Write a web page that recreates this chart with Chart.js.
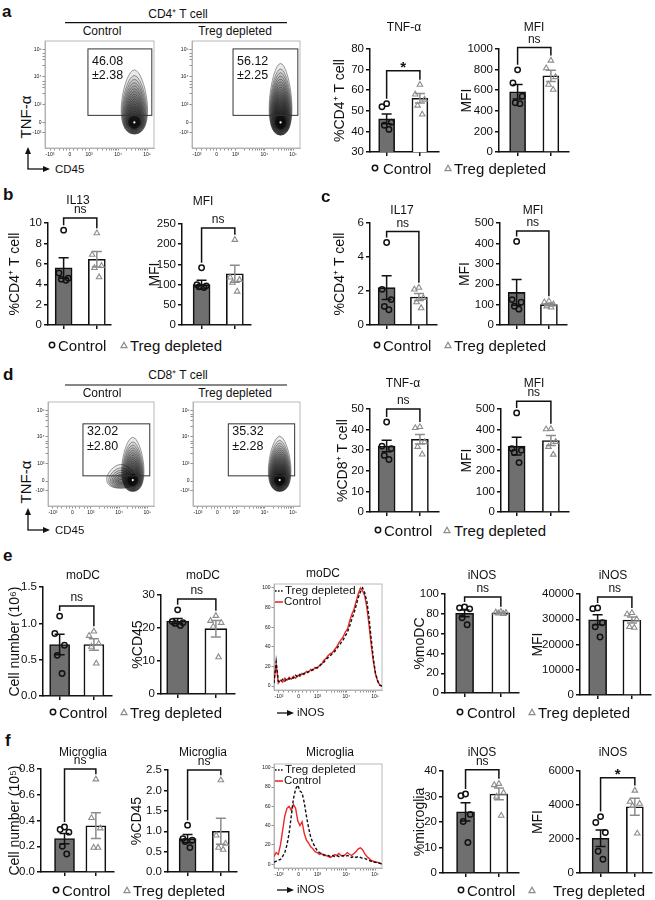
<!DOCTYPE html>
<html>
<head>
<meta charset="utf-8">
<script src="https://cdn.jsdelivr.net/npm/chart.js@4.4.0/dist/chart.umd.min.js"></script>
<style>
body { margin: 0; background: #fff; }
#fig { position: relative; width: 655px; height: 900px; overflow: hidden; font-family: "Liberation Sans", Arial, sans-serif; color: #111; }
#fig canvas { position: absolute; }
.t { position: absolute; white-space: nowrap; line-height: 1; transform: translate(-50%, -50%); }
.l { position: absolute; white-space: nowrap; line-height: 1; transform: translateY(-50%); }
#deco { position: absolute; left: 0; top: 0; }
</style>
</head>
<body>
<div id="fig"></div>
<script>
// Groups
const GROUPS = ['Control', 'Treg depleted'];

// a - CD4+ TNF-a (%), MFI
const aPctTicks = [30, 40, 50, 60, 70, 80];
const aPctMean = [46.08, 56.12];
const aPctSem = [2.38, 2.25];
const aPctCtrl = [53.5, 52, 44.5, 43, 41];
const aPctTreg = [62.7, 58, 55.5, 52.6, 48.3];
const aMfiTicks = [0, 200, 400, 600, 800, 1000];
const aMfiMean = [585, 740];
const aMfiSem = [70, 55];
const aMfiCtrl = [798, 670, 541, 478, 470];
const aMfiTreg = [888, 814, 728, 654, 606];

// b - IL13
const bPctTicks = [0, 2, 4, 6, 8, 10];
const bPctMean = [5.6, 6.45];
const bPctSem = [1.0, 0.75];
const bPctCtrl = [9.3, 5.1, 4.6, 4.5, 4.4];
const bPctTreg = [9.0, 6.9, 5.8, 5.6, 4.7];
const bMfiTicks = [0, 50, 100, 150, 200, 250];
const bMfiMean = [100, 127];
const bMfiSem = [11, 21];
const bMfiCtrl = [142, 100, 97, 95, 93];
const bMfiTreg = [211, 118, 112, 105, 83];

// c - IL17
const cPctTicks = [0, 2, 4, 6];
const cPctMean = [2.2, 1.65];
const cPctSem = [0.7, 0.2];
const cPctCtrl = [4.85, 2.1, 1.5, 1.1, 0.9];
const cPctTreg = [2.2, 2.1, 1.6, 1.35, 1.0];
const cMfiTicks = [0, 100, 200, 300, 400, 500];
const cMfiMean = [160, 100];
const cMfiSem = [63, 5];
const cMfiCtrl = [410, 125, 112, 92, 78];
const cMfiTreg = [117, 112, 102, 92, 87];

// d - CD8+ TNF-a
const dPctTicks = [0, 10, 20, 30, 40, 50];
const dPctMean = [32.02, 35.32];
const dPctSem = [2.80, 2.28];
const dPctCtrl = [43.7, 32, 30.8, 27.5, 25.5];
const dPctTreg = [41.3, 40.8, 34, 31.7, 28];
const dMfiTicks = [0, 100, 200, 300, 400, 500];
const dMfiMean = [320, 347];
const dMfiSem = [43, 24];
const dMfiCtrl = [481, 308, 300, 289, 240];
const dMfiTreg = [404, 402, 341, 317, 279];

// e - moDC
const eNumTicks = [0, 0.5, 1.0, 1.5];
const eNumMean = [0.71, 0.71];
const eNumSem = [0.14, 0.08];
const eNumCtrl = [1.1, 0.86, 0.7, 0.56, 0.31];
const eNumTreg = [0.89, 0.83, 0.72, 0.68, 0.45];
const eCd45Ticks = [0, 10, 20, 30];
const eCd45Mean = [22.1, 19.8];
const eCd45Sem = [0.8, 2.5];
const eCd45Ctrl = [25.5, 22, 21.6, 21.4, 20.8];
const eCd45Treg = [23.7, 22.2, 21.6, 20.4, 11.2];
const eInosTicks = [0, 20, 40, 60, 80, 100];
const eInosMean = [80.5, 81];
const eInosSem = [3.4, 0.5];
const eInosCtrl = [87, 86, 85, 76, 69];
const eInosTreg = [82, 81.5, 81, 80.5, 80];
const eMfiTicks = [0, 10000, 20000, 30000, 40000];
const eMfiMean = [29800, 29700];
const eMfiSem = [2000, 1200];
const eMfiCtrl = [34500, 34200, 28600, 27000, 23000];
const eMfiTreg = [32500, 32000, 30000, 27000, 26700];

// f - microglia
const fNumTicks = [0, 0.2, 0.4, 0.6, 0.8];
const fNumMean = [0.26, 0.36];
const fNumSem = [0.04, 0.1];
const fNumCtrl = [0.35, 0.33, 0.31, 0.2, 0.14];
const fNumTreg = [0.72, 0.42, 0.34, 0.19, 0.19];
const fCd45Ticks = [0, 0.5, 1.0, 1.5, 2.0, 2.5];
const fCd45Mean = [0.82, 1.0];
const fCd45Sem = [0.1, 0.32];
const fCd45Ctrl = [1.15, 0.82, 0.78, 0.75, 0.6];
const fCd45Treg = [2.25, 0.9, 0.7, 0.6, 0.55];
const fInosTicks = [0, 10, 20, 30, 40];
const fInosMean = [24, 31];
const fInosSem = [3.6, 2.3];
const fInosCtrl = [31, 30.3, 23, 20.2, 12];
const fInosTreg = [35, 34.5, 31.5, 30, 22.5];
const fMfiTicks = [0, 2000, 4000, 6000];
const fMfiMean = [2050, 3900];
const fMfiSem = [480, 500];
const fMfiCtrl = [3320, 2970, 2390, 1280, 815];
const fMfiTreg = [4850, 4200, 4080, 3950, 2330];

// iNOS histograms (% of max), bins along the biexponential axis
const HIST_BINS = [0, 2, 4, 6, 8, 10, 12, 14, 16, 18, 20, 22, 24, 26, 28, 30, 32, 34, 36, 38, 40, 42, 44, 46, 48, 50,
  52, 54, 56, 58, 60, 62, 64, 66, 68, 70, 72, 74, 76, 78, 80, 82, 84, 86, 88, 90, 92, 94, 96, 98, 100];
const moDcCtrl = [5, 22, 3, 6, 4, 8, 6, 9, 7, 10, 8, 11, 10, 13, 12, 15, 14, 17, 16, 19, 18, 21, 22, 26, 28, 31,
  33, 34, 37, 40, 44, 47, 50, 55, 58, 66, 73, 78, 86, 94, 100, 97, 92, 80, 62, 42, 25, 12, 5, 1, 0];
const moDcTreg = [3, 25, 5, 4, 7, 5, 8, 7, 9, 8, 11, 9, 12, 11, 13, 13, 15, 15, 17, 18, 19, 20, 23, 24, 27, 29,
  31, 33, 35, 38, 41, 44, 47, 51, 55, 61, 68, 74, 82, 90, 96, 100, 95, 86, 70, 48, 28, 13, 5, 1, 0];
const microCtrl = [8, 12, 10, 20, 35, 50, 58, 60, 56, 62, 58, 45, 40, 44, 32, 25, 22, 18, 16, 13, 12, 10, 11, 9, 9, 8,
  7, 8, 10, 9, 11, 9, 8, 10, 12, 10, 9, 11, 13, 16, 17, 15, 11, 8, 6, 4, 3, 2, 2, 1, 0];
const microTreg = [2, 3, 4, 5, 8, 12, 20, 32, 50, 68, 78, 82, 76, 74, 64, 50, 38, 28, 22, 18, 14, 12, 11, 10, 9, 9,
  8, 9, 8, 9, 8, 8, 9, 8, 9, 8, 7, 8, 7, 8, 7, 6, 6, 5, 4, 3, 2, 2, 1, 1, 0];

// flow axis ticks (biexponential display positions, % of axis)
const FLOW_LAB = ['-10³', '0', '10³', '10⁴', '10⁵'];
const FLOW_XPOS = [4.6, 22.9, 40.4, 67, 93.6];
const FLOW_YPOS = [14.8, 24, 40.7, 66.7, 91.7];
const FLOW_XMINOR = [9, 13, 17, 20, 26, 30, 34, 37, 48.4, 53.1, 56.4, 59, 61.1, 62.9, 64.4, 65.8, 75, 79.7, 83, 85.6, 87.7, 89.5, 91, 92.4];
const FLOW_YMINOR = [50.8, 56.6, 59.8, 62, 76.7, 82.6, 85.8, 88];
const HIST_YTICKS = [0, 20, 40, 60, 80, 100];

const INK = '#111';
const GREY = '#8c8c8c';
const FONT = '"Liberation Sans", Arial, sans-serif';
const JITTER = [0, -0.14, 0.14, -0.07, 0.07];

Chart.defaults.font.family = FONT;
Chart.defaults.color = INK;
Chart.defaults.animation = false;
Chart.defaults.plugins.legend.display = false;
Chart.defaults.plugins.tooltip.enabled = false;

const fig = document.getElementById('fig');
let svg = '';

function makeCanvas(left, top, w, h) {
  const c = document.createElement('canvas');
  c.width = w; c.height = h;
  c.style.left = left + 'px'; c.style.top = top + 'px';
  c.style.width = w + 'px'; c.style.height = h + 'px';
  fig.appendChild(c);
  return c;
}

function put(s, x, y, size, o = {}) {
  const d = document.createElement('div');
  d.textContent = s;
  d.className = o.left ? 'l' : 't';
  d.style.left = x + 'px'; d.style.top = y + 'px'; d.style.fontSize = size + 'px';
  if (o.bold) d.style.fontWeight = 'bold';
  if (o.rot) d.style.transform = 'translate(-50%,-50%) rotate(-90deg)';
  fig.appendChild(d);
}

// Prism style bar + dot chart
const PAD_TOP = 42;
function barChart(s) {
  const cLeft = s.yTitleX - 12, cTop = s.top - PAD_TOP;
  const w = s.right - cLeft + 4, h = s.bot - cTop + 8;
  const span = s.c1 - s.c0;
  const pts = [s.ctrl, s.treg];
  const extras = {
    id: 'prismExtras',
    afterDatasetDraw(chart, args) {
      if (args.index !== 2) return;
      const { ctx, scales: { x, y } } = chart;
      s.mean.forEach((m, i) => {
        const px = x.getPixelForValue(i);
        const hi = y.getPixelForValue(m + s.sem[i]), lo = y.getPixelForValue(m - s.sem[i]);
        ctx.save();
        ctx.strokeStyle = i ? GREY : INK; ctx.lineWidth = 1.5;
        ctx.beginPath();
        ctx.moveTo(px, hi); ctx.lineTo(px, lo);
        ctx.moveTo(px - 5, hi); ctx.lineTo(px + 5, hi);
        ctx.moveTo(px - 5, lo); ctx.lineTo(px + 5, lo);
        ctx.stroke();
        ctx.restore();
      });
    },
    afterDraw(chart) {
      const { ctx, scales: { x, y } } = chart;
      const top = y.getPixelForValue(s.bracket);
      const legs = [0, 1].map(i => y.getPixelForValue(Math.max(...pts[i], s.mean[i] + s.sem[i])) - 5);
      const x0 = x.getPixelForValue(0), x1 = x.getPixelForValue(1);
      ctx.save();
      ctx.strokeStyle = INK; ctx.lineWidth = 1.5;
      ctx.beginPath();
      ctx.moveTo(x0, legs[0]); ctx.lineTo(x0, top); ctx.lineTo(x1, top); ctx.lineTo(x1, legs[1]);
      ctx.stroke();
      ctx.fillStyle = INK; ctx.textAlign = 'center'; ctx.textBaseline = 'middle';
      if (s.sig === '*') {
        ctx.font = 'bold 15px ' + FONT;
        ctx.fillText('*', (x0 + x1) / 2, top - 3);
      } else {
        ctx.font = '12px ' + FONT;
        ctx.fillText(s.sig, (x0 + x1) / 2, top - 8);
      }
      ctx.restore();
    }
  };
  new Chart(makeCanvas(cLeft, cTop, w, h), {
    type: 'bar',
    data: {
      datasets: [
        { type: 'scatter', data: s.ctrl.map((v, k) => ({ x: JITTER[k], y: v })), pointStyle: 'circle', pointRadius: 2.7,
          borderColor: INK, borderWidth: 1.5, backgroundColor: 'rgba(0,0,0,0)', clip: false },
        { type: 'scatter', data: s.treg.map((v, k) => ({ x: 1 + JITTER[k], y: v })), pointStyle: 'triangle', pointRadius: 3.2,
          borderColor: GREY, borderWidth: 1.1, backgroundColor: 'rgba(0,0,0,0)', clip: false },
        { type: 'bar', data: s.mean.map((v, i) => ({ x: i, y: v })), backgroundColor: ['#6f6f6f', '#ffffff'],
          borderColor: INK, borderWidth: 1.6, borderSkipped: 'start', barThickness: s.bw }
      ]
    },
    options: {
      responsive: false,
      layout: { padding: { top: PAD_TOP, right: 4, left: 0, bottom: 0 } },
      scales: {
        x: {
          type: 'linear', offset: false,
          min: -(s.c0 - s.axisX) / span, max: 1 + (s.right - s.c1) / span,
          afterBuildTicks: sc => { sc.ticks = [{ value: 0 }, { value: 1 }]; },
          afterFit: sc => { sc.height = 8; },
          ticks: { display: false, autoSkip: false },
          grid: { offset: false, drawOnChartArea: false, tickLength: 4, color: INK, lineWidth: 1.5 },
          border: { color: INK, width: 1.5 }
        },
        y: {
          beginAtZero: false,
          min: s.ticks[0], max: s.ticks[s.ticks.length - 1],
          afterBuildTicks: sc => { sc.ticks = s.ticks.map(v => ({ value: v })); },
          afterFit: sc => { sc.width = s.axisX - cLeft; },
          ticks: { font: { size: 11.5 }, color: INK, padding: 2, autoSkip: false, callback: v => (+v).toFixed(s.dec || 0) },
          grid: { drawOnChartArea: false, tickLength: 4, color: INK, lineWidth: 1.5 },
          border: { color: INK, width: 1.5 },
          title: { display: true, text: s.yTitle, font: { size: 14 }, color: INK, padding: { top: 4, bottom: 4 } }
        }
      }
    },
    plugins: [extras]
  });
  put(s.title, s.titlePos[0], s.titlePos[1], 12);
}

function flowTick(pos) {
  return v => { const i = pos.indexOf(v); return i < 0 ? '' : FLOW_LAB[i]; };
}

// contour flow plot
function flowPlot(f) {
  const [fl, ft, fr, fb] = f.frame;
  const cLeft = fl - 14, cTop = ft - 3;
  const extras = {
    id: 'flowExtras',
    beforeDatasetsDraw(chart) {
      const { ctx, chartArea: a, scales: { x, y } } = chart;
      ctx.save();
      ctx.strokeStyle = '#a8a8a8'; ctx.lineWidth = 0.8;
      ctx.strokeRect(a.left, a.top, a.right - a.left, a.bottom - a.top);
      ctx.beginPath(); ctx.rect(a.left, a.top, a.right - a.left, a.bottom - a.top); ctx.clip();
      f.blobs.forEach(b => {
        const xc = x.getPixelForValue(b.cx), yc = y.getPixelForValue(b.cy);
        const yb0 = y.getPixelForValue(b.yb), yt0 = y.getPixelForValue(b.yt);
        const hw0 = x.getPixelForValue(b.cx + b.hw) - xc;
        const n = b.n || 20;
        for (let k = 0; k < n; k++) {
          const t = k / n;
          const yb = yb0 + (yc - yb0) * Math.pow(t, 1.3);
          const yt = yt0 + (yc - yt0) * Math.pow(t, 0.75);
          const hw = hw0 * (1 - Math.pow(t, 0.9) * 0.88);
          ctx.beginPath();
          ctx.moveTo(xc, yb);
          ctx.bezierCurveTo(xc + hw * 1.35, yb, xc + hw * 0.6, yt, xc, yt);
          ctx.bezierCurveTo(xc - hw * 0.6, yt, xc - hw * 1.35, yb, xc, yb);
          ctx.fillStyle = 'rgba(0,0,0,0.085)'; ctx.fill();
          ctx.strokeStyle = 'rgba(20,20,20,0.7)'; ctx.lineWidth = 0.6; ctx.stroke();
        }
        if (b.core) {
          ctx.beginPath();
          ctx.ellipse(xc, yc - 1, hw0 * 0.35, (yb0 - yc) * 0.6, 0, 0, Math.PI * 2);
          ctx.fillStyle = 'rgba(0,0,0,0.55)'; ctx.fill();
          ctx.beginPath(); ctx.arc(xc, yc - 1, 1.1, 0, Math.PI * 2);
          ctx.fillStyle = '#fff'; ctx.fill();
        }
      });
      ctx.restore();
      // gate
      const g = f.gate;
      const gx0 = x.getPixelForValue(g[0]), gy0 = y.getPixelForValue(g[3]);
      const gx1 = x.getPixelForValue(g[2]), gy1 = y.getPixelForValue(g[1]);
      ctx.save();
      ctx.strokeStyle = '#333'; ctx.lineWidth = 1;
      ctx.strokeRect(gx0, gy0, gx1 - gx0, gy1 - gy0);
      ctx.fillStyle = INK; ctx.font = '12.5px ' + FONT; ctx.textBaseline = 'alphabetic';
      ctx.fillText(f.value.toFixed(2), gx0 + 4, gy0 + f.textOff[0]);
      ctx.fillText('±' + f.sem.toFixed(2), gx0 + 4, gy0 + f.textOff[1]);
      ctx.restore();
    }
  };
  new Chart(makeCanvas(cLeft, cTop, fr - cLeft + 3, fb - cTop + 10), {
    type: 'scatter',
    data: { datasets: [{ data: [] }] },
    options: {
      responsive: false,
      layout: { padding: { top: 3, right: 3, left: 0, bottom: 0 } },
      scales: {
        x: {
          min: 0, max: 100,
          afterBuildTicks: sc => { sc.ticks = FLOW_XPOS.concat(FLOW_XMINOR).map(v => ({ value: v })); },
          afterFit: sc => { sc.height = 10; },
          ticks: { font: { size: 5 }, padding: 1, maxRotation: 0, autoSkip: false, callback: flowTick(FLOW_XPOS) },
          grid: { drawOnChartArea: false, tickLength: 2.5, color: '#444', lineWidth: 0.6 },
          border: { color: '#a8a8a8', width: 0.8 }
        },
        y: {
          min: 0, max: 100,
          afterBuildTicks: sc => { sc.ticks = FLOW_YPOS.concat(FLOW_YMINOR).map(v => ({ value: v })); },
          afterFit: sc => { sc.width = 14; },
          ticks: { font: { size: 5 }, padding: 1, autoSkip: false, callback: flowTick(FLOW_YPOS) },
          grid: { drawOnChartArea: false, tickLength: 2.5, color: '#444', lineWidth: 0.6 },
          border: { color: '#a8a8a8', width: 0.8 }
        }
      }
    },
    plugins: [extras]
  });
}

// iNOS histogram overlay
function histPlot(hs) {
  const [fl, ft, fr, fb] = hs.frame;
  const cLeft = fl - 14, cTop = ft - 3;
  const frame = {
    id: 'frame',
    beforeDatasetsDraw(chart) {
      const { ctx, chartArea: a } = chart;
      ctx.save(); ctx.strokeStyle = '#a8a8a8'; ctx.lineWidth = 0.8;
      ctx.strokeRect(a.left, a.top, a.right - a.left, a.bottom - a.top);
      ctx.restore();
    }
  };
  new Chart(makeCanvas(cLeft, cTop, fr - cLeft + 3, fb - cTop + 10), {
    type: 'line',
    data: {
      datasets: [
        { data: HIST_BINS.map((x, i) => ({ x, y: hs.treg[i] })), borderColor: INK, borderDash: [3, 2], borderWidth: 1.4, pointRadius: 0 },
        { data: HIST_BINS.map((x, i) => ({ x, y: hs.ctrl[i] })), borderColor: '#ec2a2a', borderWidth: 1.4, pointRadius: 0 }
      ]
    },
    options: {
      responsive: false,
      layout: { padding: { top: 3, right: 3, left: 0, bottom: 0 } },
      scales: {
        x: {
          type: 'linear', min: 0, max: 100,
          afterBuildTicks: sc => { sc.ticks = FLOW_XPOS.concat(FLOW_XMINOR).map(v => ({ value: v })); },
          afterFit: sc => { sc.height = 10; },
          ticks: { font: { size: 5 }, padding: 1, maxRotation: 0, autoSkip: false, callback: flowTick(FLOW_XPOS) },
          grid: { drawOnChartArea: false, tickLength: 2.5, color: '#444', lineWidth: 0.6 },
          border: { color: '#a8a8a8', width: 0.8 }
        },
        y: {
          min: -4, max: 104,
          afterBuildTicks: sc => { sc.ticks = HIST_YTICKS.map(v => ({ value: v })); },
          afterFit: sc => { sc.width = 14; },
          ticks: { font: { size: 5 }, padding: 1, autoSkip: false },
          grid: { drawOnChartArea: false, tickLength: 2.5, color: '#444', lineWidth: 0.6 },
          border: { color: '#a8a8a8', width: 0.8 }
        }
      }
    },
    plugins: [frame]
  });
  put(hs.title, hs.titlePos[0], hs.titlePos[1], 12);
  const [lx, ly1, ly2] = hs.legend;
  svg += `<line x1="${lx}" y1="${ly1}" x2="${lx + 9}" y2="${ly1}" stroke="${INK}" stroke-width="1.4" stroke-dasharray="1.6,1.4"/>`;
  svg += `<line x1="${lx}" y1="${ly2}" x2="${lx + 8}" y2="${ly2}" stroke="#ec2a2a" stroke-width="1.6"/>`;
  put(GROUPS[1], lx + 10, ly1, 11.5, { left: true });
  put(GROUPS[0], lx + 9, ly2, 11.5, { left: true });
  arrowRight(277, hs.arrowY);
  put('iNOS', 297, hs.arrowY, 11.5, { left: true });
}

function arrowRight(x, y) {
  svg += `<line x1="${x}" y1="${y}" x2="${x + 11}" y2="${y}" stroke="${INK}" stroke-width="1.3"/>`;
  svg += `<polygon points="${x + 10},${y - 3} ${x + 10},${y + 3} ${x + 17},${y}" fill="${INK}"/>`;
}

function flowAxes(cornerY) {
  svg += `<line x1="28" y1="${cornerY}" x2="28" y2="${cornerY - 16}" stroke="${INK}" stroke-width="1.3"/>`;
  svg += `<polygon points="25,${cornerY - 15} 31,${cornerY - 15} 28,${cornerY - 22}" fill="${INK}"/>`;
  svg += `<line x1="27.4" y1="${cornerY}" x2="44" y2="${cornerY}" stroke="${INK}" stroke-width="1.3"/>`;
  svg += `<polygon points="43,${cornerY - 3} 43,${cornerY + 3} 50,${cornerY}" fill="${INK}"/>`;
  put('CD45', 55, cornerY + 1, 11.5, { left: true });
}

function legendRow(y, cx, tx, trx, ttx) {
  svg += `<circle cx="${cx}" cy="${y}" r="2.7" fill="none" stroke="${INK}" stroke-width="1.5"/>`;
  svg += `<polygon points="${trx - 3},${y + 2.6} ${trx + 3},${y + 2.6} ${trx},${y - 2.8}" fill="none" stroke="${GREY}" stroke-width="1.2"/>`;
  put(GROUPS[0], tx, y, 15, { left: true });
  put(GROUPS[1], ttx, y, 15, { left: true });
}

// ---- panel a ----
put('a', 2, 11, 17, { left: true, bold: true });
put('CD4⁺ T cell', 178, 14, 12);
svg += `<line x1="65" y1="22.7" x2="287" y2="22.7" stroke="${INK}" stroke-width="1.2"/>`;
put(GROUPS[0], 102, 31, 12);
put(GROUPS[1], 235, 31, 12);
put('TNF-α', 25, 117, 15, { rot: true });
flowAxes(169);
flowPlot({ frame: [45, 40, 154, 148], gate: [39.4, 30.5, 98, 92.6], value: aPctMean[0], sem: aPctSem[0], textOff: [16, 30],
  blobs: [{ cx: 82, cy: 23, yb: 13, yt: 73, hw: 16, core: true }] });
flowPlot({ frame: [192, 40, 300, 148], gate: [38, 30.5, 98, 92.6], value: aPctMean[1], sem: aPctSem[1], textOff: [16, 30],
  blobs: [{ cx: 82, cy: 23, yb: 12, yt: 79, hw: 14, n: 24, core: true }] });
barChart({ title: 'TNF-α', titlePos: [404, 27], yTitle: '%CD4⁺ T cell', ticks: aPctTicks, mean: aPctMean, sem: aPctSem,
  ctrl: aPctCtrl, treg: aPctTreg, sig: '*', bracket: 69.5,
  axisX: 370, c0: 387, c1: 421, right: 440, top: 49, bot: 153, yTitleX: 340, bw: 16 });
barChart({ title: 'MFI', titlePos: [534, 27], yTitle: 'MFI', ticks: aMfiTicks, mean: aMfiMean, sem: aMfiSem,
  ctrl: aMfiCtrl, treg: aMfiTreg, sig: 'ns', bracket: 1015,
  axisX: 499, c0: 518, c1: 552, right: 570, top: 49, bot: 153, yTitleX: 467, bw: 16 });
legendRow(168, 375, 383, 448, 454);

// ---- panel b ----
put('b', 3, 194, 17, { left: true, bold: true });
barChart({ title: 'IL13', titlePos: [78, 200], yTitle: '%CD4⁺ T cell', ticks: bPctTicks, mean: bPctMean, sem: bPctSem,
  ctrl: bPctCtrl, treg: bPctTreg, sig: 'ns', bracket: 10.5,
  axisX: 48, c0: 64, c1: 98, right: 112, top: 223, bot: 326, yTitleX: 15, bw: 17 });
barChart({ title: 'MFI', titlePos: [203, 201], yTitle: 'MFI', ticks: bMfiTicks, mean: bMfiMean, sem: bMfiSem,
  ctrl: bMfiCtrl, treg: bMfiTreg, sig: 'ns', bracket: 240,
  axisX: 182, c0: 202, c1: 236, right: 252, top: 224, bot: 326, yTitleX: 155, bw: 17 });
legendRow(345, 52, 58, 124, 130);

// ---- panel c ----
put('c', 321, 196, 17, { left: true, bold: true });
barChart({ title: 'IL17', titlePos: [402, 210], yTitle: '%CD4⁺ T cell', ticks: cPctTicks, mean: cPctMean, sem: cPctSem,
  ctrl: cPctCtrl, treg: cPctTreg, sig: 'ns', bracket: 5.5,
  axisX: 370, c0: 387, c1: 420, right: 438, top: 223, bot: 326, yTitleX: 340, bw: 17 });
barChart({ title: 'MFI', titlePos: [533, 210], yTitle: 'MFI', ticks: cMfiTicks, mean: cMfiMean, sem: cMfiSem,
  ctrl: cMfiCtrl, treg: cMfiTreg, sig: 'ns', bracket: 461,
  axisX: 500, c0: 517, c1: 550, right: 568, top: 223, bot: 326, yTitleX: 465, bw: 17 });
legendRow(345, 377, 383, 448, 454);

// ---- panel d ----
put('d', 3, 374, 17, { left: true, bold: true });
put('CD8⁺ T cell', 178, 375, 12);
svg += `<line x1="65" y1="385" x2="287" y2="385" stroke="${INK}" stroke-width="1.2"/>`;
put(GROUPS[0], 102, 393, 12);
put(GROUPS[1], 235, 393, 12);
put('TNF-α', 25, 482, 15, { rot: true });
flowAxes(530);
flowPlot({ frame: [48, 401, 154, 506], gate: [33, 29, 96, 79], value: dPctMean[0], sem: dPctSem[0], textOff: [11, 26],
  blobs: [{ cx: 69, cy: 24, yb: 17, yt: 40, hw: 18, n: 8 }, { cx: 80, cy: 24, yb: 14, yt: 66, hw: 14, core: true }] });
flowPlot({ frame: [193, 401, 300, 506], gate: [33, 29, 95, 79], value: dPctMean[1], sem: dPctSem[1], textOff: [11, 26],
  blobs: [{ cx: 81, cy: 24, yb: 14, yt: 67, hw: 14, n: 24, core: true }] });
barChart({ title: 'TNF-α', titlePos: [403, 383], yTitle: '%CD8⁺ T cell', ticks: dPctTicks, mean: dPctMean, sem: dPctSem,
  ctrl: dPctCtrl, treg: dPctTreg, sig: 'ns', bracket: 50,
  axisX: 370, c0: 387, c1: 421, right: 440, top: 409, bot: 513, yTitleX: 343, bw: 17 });
barChart({ title: 'MFI', titlePos: [534, 383], yTitle: 'MFI', ticks: dMfiTicks, mean: dMfiMean, sem: dMfiSem,
  ctrl: dMfiCtrl, treg: dMfiTreg, sig: 'ns', bracket: 538,
  axisX: 501, c0: 517, c1: 552, right: 570, top: 409, bot: 513, yTitleX: 467, bw: 17 });
legendRow(530, 378, 384, 447, 454);

// ---- panel e ----
put('e', 3, 555, 17, { left: true, bold: true });
barChart({ title: 'moDC', titlePos: [83, 575], yTitle: 'Cell number (10⁶)', ticks: eNumTicks, dec: 1, mean: eNumMean, sem: eNumSem,
  ctrl: eNumCtrl, treg: eNumTreg, sig: 'ns', bracket: 1.24,
  axisX: 43, c0: 60, c1: 95, right: 113, top: 587, bot: 697, yTitleX: 15, bw: 20 });
barChart({ title: 'moDC', titlePos: [203, 575], yTitle: '%CD45', ticks: eCd45Ticks, mean: eCd45Mean, sem: eCd45Sem,
  ctrl: eCd45Ctrl, treg: eCd45Treg, sig: 'ns', bracket: 28.8,
  axisX: 161, c0: 178, c1: 217, right: 236, top: 595, bot: 695, yTitleX: 138, bw: 22 });
histPlot({ title: 'moDC', titlePos: [323, 573], frame: [274, 583, 382, 690], ctrl: moDcCtrl, treg: moDcTreg,
  legend: [275, 591, 602], arrowY: 713 });
barChart({ title: 'iNOS', titlePos: [482, 575], yTitle: '%moDC', ticks: eInosTicks, mean: eInosMean, sem: eInosSem,
  ctrl: eInosCtrl, treg: eInosTreg, sig: 'ns', bracket: 97,
  axisX: 445, c0: 465, c1: 502, right: 520, top: 594, bot: 694, yTitleX: 420, bw: 18 });
barChart({ title: 'iNOS', titlePos: [613, 575], yTitle: 'MFI', ticks: eMfiTicks, mean: eMfiMean, sem: eMfiSem,
  ctrl: eMfiCtrl, treg: eMfiTreg, sig: 'ns', bracket: 38800,
  axisX: 580, c0: 598, c1: 633, right: 652, top: 594, bot: 696, yTitleX: 538, bw: 18 });
legendRow(712, 53, 59, 124, 130);
legendRow(712, 460, 467, 532, 538);

// ---- panel f ----
put('f', 5, 740, 17, { left: true, bold: true });
barChart({ title: 'Microglia', titlePos: [83, 752], yTitle: 'Cell number (10⁵)', ticks: fNumTicks, dec: 1, mean: fNumMean, sem: fNumSem,
  ctrl: fNumCtrl, treg: fNumTreg, sig: 'ns', bracket: 0.8,
  axisX: 41, c0: 65, c1: 97, right: 115, top: 769, bot: 873, yTitleX: 15, bw: 20 });
barChart({ title: 'Microglia', titlePos: [203, 752], yTitle: '%CD45', ticks: fCd45Ticks, dec: 1, mean: fCd45Mean, sem: fCd45Sem,
  ctrl: fCd45Ctrl, treg: fCd45Treg, sig: 'ns', bracket: 2.5,
  axisX: 168, c0: 188, c1: 222, right: 238, top: 770, bot: 873, yTitleX: 137, bw: 17 });
histPlot({ title: 'Microglia', titlePos: [330, 752], frame: [274, 763, 382, 868], ctrl: microCtrl, treg: microTreg,
  legend: [275, 770, 781], arrowY: 890 });
barChart({ title: 'iNOS', titlePos: [482, 752], yTitle: '%microglia', ticks: fInosTicks, mean: fInosMean, sem: fInosSem,
  ctrl: fInosCtrl, treg: fInosTreg, sig: 'ns', bracket: 40.5,
  axisX: 443, c0: 466, c1: 500, right: 520, top: 771, bot: 874, yTitleX: 420, bw: 18 });
barChart({ title: 'iNOS', titlePos: [613, 752], yTitle: 'MFI', ticks: fMfiTicks, mean: fMfiMean, sem: fMfiSem,
  ctrl: fMfiCtrl, treg: fMfiTreg, sig: '*', bracket: 5600,
  axisX: 580, c0: 601, c1: 636, right: 653, top: 771, bot: 874, yTitleX: 538, bw: 17 });
legendRow(890, 56, 62, 127, 133);
legendRow(890, 461, 467, 532, 553);

// decorations (arrows, rules, legend symbols)
const deco = document.createElementNS('http://www.w3.org/2000/svg', 'svg');
deco.setAttribute('id', 'deco');
deco.setAttribute('width', 655);
deco.setAttribute('height', 900);
deco.innerHTML = svg;
fig.appendChild(deco);
</script>
</body>
</html>
